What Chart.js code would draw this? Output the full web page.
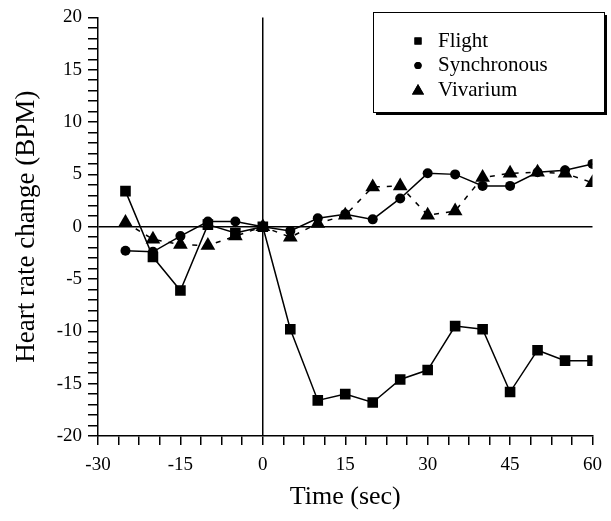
<!DOCTYPE html>
<html>
<head>
<meta charset="utf-8">
<script src="https://cdn.jsdelivr.net/npm/chart.js@4.4.1/dist/chart.umd.min.js"></script>
<style>
  body { margin: 0; background: #fff; }
  #wrap { width: 611px; height: 521px; }
</style>
</head>
<body>
<div id="wrap"><canvas id="myChart" width="611" height="521"></canvas></div>
<script>
// Time points (sec) and heart rate change (BPM) for each group
var times = [-25, -20, -15, -10, -5, 0, 5, 10, 15, 20, 25, 30, 35, 40, 45, 50, 55, 60];
var flight = [3.4, -2.9, -6.1, 0.2, -0.6, 0, -9.8, -16.6, -16.0, -16.8, -14.6, -13.7, -9.5, -9.8, -15.8, -11.8, -12.8, -12.8];
var synchronous = [-2.3, -2.4, -0.9, 0.5, 0.5, 0, -0.4, 0.8, 1.2, 0.7, 2.7, 5.1, 5.0, 3.9, 3.9, 5.2, 5.4, 6.0];
var vivarium = [0.4, -1.2, -1.7, -1.8, -0.9, 0, -1.0, 0.3, 1.1, 3.8, 3.9, 1.1, 1.5, 4.7, 5.1, 5.2, 5.1, 4.2];

var seriesNames = ["Flight", "Synchronous", "Vivarium"];
var xTickLabels = [-30, -15, 0, 15, 30, 45, 60];
var yTickLabels = [-20, -15, -10, -5, 0, 5, 10, 15, 20];

var serif = "'Liberation Serif', 'Times New Roman', serif";

function toPoints(values) {
	return times.map(function(t, i) { return { x: t, y: values[i] }; });
}

// Boxed legend with a drop shadow, drawn in the top right corner
var boxLegend = {
	id: "boxLegend",
	afterDraw: function(chart) {
		var ctx = chart.ctx;
		var x = 373, y = 12, w = 231, h = 100;
		ctx.save();
		ctx.fillStyle = "#000";
		ctx.fillRect(x + 3, y + 3, w, h);
		ctx.fillStyle = "#fff";
		ctx.fillRect(x, y, w, h);
		ctx.strokeStyle = "#000";
		ctx.lineWidth = 1;
		ctx.strokeRect(x + 0.5, y + 0.5, w, h);

		var markers = [
			{ style: "rect", radius: 5 },
			{ style: "circle", radius: 3.6 },
			{ style: "triangle", radius: 7 }
		];
		ctx.font = "21px " + serif;
		ctx.textBaseline = "middle";
		for (var i = 0; i < seriesNames.length; i++) {
			var rowY = 41 + i * 24.5;
			ctx.fillStyle = "#000";
			ctx.strokeStyle = "#000";
			Chart.helpers.drawPoint(ctx, { pointStyle: markers[i].style, radius: markers[i].radius, borderWidth: 0 }, 418, rowY + (i == 2 ? 1 : 0));
			ctx.fill();
			ctx.fillText(seriesNames[i], 438, rowY);
		}
		ctx.restore();
	}
};

var ctx = document.getElementById("myChart");
var myChart = new Chart(ctx, {
	type: "line",
	data: {
		datasets: [
			{
				label: seriesNames[0],
				data: toPoints(flight),
				borderColor: "#000",
				backgroundColor: "#000",
				borderWidth: 1.5,
				pointStyle: "rect",
				pointRadius: 7.5,
				pointBorderWidth: 0,
				tension: 0
			},
			{
				label: seriesNames[1],
				data: toPoints(synchronous),
				borderColor: "#000",
				backgroundColor: "#000",
				borderWidth: 1.5,
				pointStyle: "circle",
				pointRadius: 5,
				pointBorderWidth: 0,
				tension: 0
			},
			{
				label: seriesNames[2],
				data: toPoints(vivarium),
				borderColor: "#000",
				backgroundColor: "#000",
				borderWidth: 1.5,
				borderDash: [5, 7],
				pointStyle: "triangle",
				pointRadius: 8.5,
				pointBorderWidth: 0,
				tension: 0
			}
		]
	},
	options: {
		responsive: false,
		animation: false,
		devicePixelRatio: 1,
		layout: { padding: { top: 10, right: 15, bottom: 0, left: 0 } },
		plugins: {
			legend: { display: false },
			tooltip: { enabled: false }
		},
		scales: {
			x: {
				type: "linear",
				min: -30,
				max: 60,
				afterFit: function(scale) { scale.height = 85; },
				ticks: {
					stepSize: 3.75,
					maxTicksLimit: 100,
					autoSkip: false,
					maxRotation: 0,
					padding: 9,
					color: "#000",
					font: { family: serif, size: 19 },
					callback: function(v) { return xTickLabels.indexOf(v) >= 0 ? String(v) : ""; }
				},
				grid: {
					color: function(c) { return c.tick && c.tick.value === 0 ? "#000" : "rgba(0,0,0,0)"; },
					lineWidth: 1.5,
					tickColor: "#000",
					tickLength: 9,
					tickWidth: 1.5
				},
				border: { color: "#000", width: 1.5 },
				title: {
					display: true,
					text: "Time (sec)",
					color: "#000",
					font: { family: serif, size: 26 },
					padding: { top: 0, bottom: 8 }
				}
			},
			y: {
				min: -20,
				max: 20,
				afterFit: function(scale) { scale.width = 98; },
				ticks: {
					stepSize: 1,
					maxTicksLimit: 100,
					autoSkip: false,
					padding: 6,
					color: "#000",
					font: { family: serif, size: 19 },
					callback: function(v) { return yTickLabels.indexOf(v) >= 0 ? String(v) : ""; }
				},
				grid: {
					color: function(c) { return c.tick && c.tick.value === 0 ? "#000" : "rgba(0,0,0,0)"; },
					lineWidth: 1.5,
					tickColor: "#000",
					tickLength: 10,
					tickWidth: 1.5
				},
				border: { color: "#000", width: 1.5 },
				title: {
					display: true,
					text: "Heart rate change (BPM)",
					color: "#000",
					font: { family: serif, size: 27 },
					padding: { top: 11, bottom: 0 }
				}
			}
		}
	},
	plugins: [boxLegend]
});
</script>
</body>
</html>
